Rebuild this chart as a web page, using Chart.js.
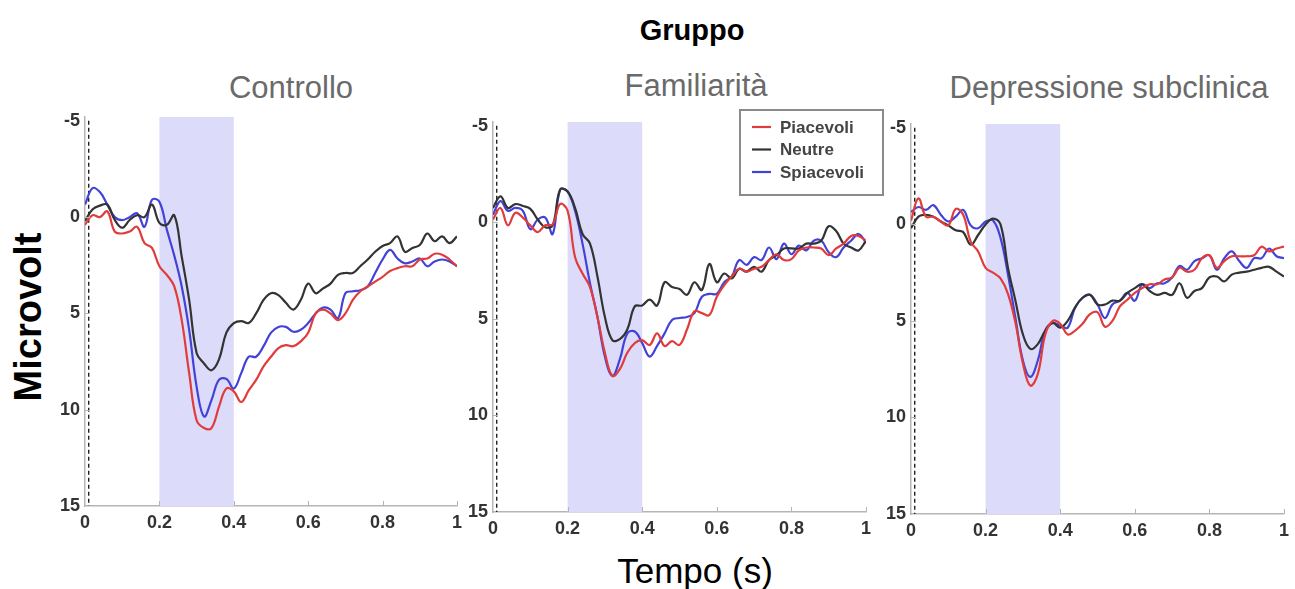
<!DOCTYPE html>
<html lang="it">
<head>
<meta charset="utf-8">
<title>Gruppo</title>
<script src="https://cdn.jsdelivr.net/npm/chart.js@4.4.1/dist/chart.umd.min.js"></script>
<style>
    body { margin: 0; width: 1295px; height: 589px; background: #fff; position: relative; overflow: hidden; font-family: "Liberation Sans", Arial, sans-serif; }
    canvas { position: absolute; }
    .testo { position: absolute; white-space: nowrap; line-height: 1; transform: translate(-50%, -50%); }
    #titolo { left: 692px; top: 30px; font-size: 29px; font-weight: bold; color: #000; }
    .gruppo { font-size: 31px; color: #6a6a6a; }
    #asseX { left: 695px; top: 570px; font-size: 35px; color: #000; }
    #asseY { left: 28px; top: 317px; font-size: 38px; font-weight: bold; color: #000; transform: translate(-50%, -50%) rotate(-90deg); }
</style>
</head>
<body>
<div id="titolo" class="testo">Gruppo</div>
<div id="asseX" class="testo">Tempo (s)</div>
<div id="asseY" class="testo">Microvolt</div>

<script>
const tempo = [0, 0.02, 0.04, 0.06, 0.08, 0.1, 0.12, 0.14, 0.16, 0.18, 0.2, 0.22, 0.24, 0.26, 0.28, 0.3, 0.32, 0.34, 0.36, 0.38, 0.4,
    0.42, 0.44, 0.46, 0.48, 0.5, 0.52, 0.54, 0.56, 0.58, 0.6, 0.62, 0.64, 0.66, 0.68, 0.7, 0.72, 0.74, 0.76, 0.78, 0.8,
    0.82, 0.84, 0.86, 0.88, 0.9, 0.92, 0.94, 0.96, 0.98, 1];
const xTicks = [0, 0.2, 0.4, 0.6, 0.8, 1];
const yTicks = [-5, 0, 5, 10, 15];
const condizioni = ['Piacevoli', 'Neutre', 'Spiacevoli'];
const gruppi = ['Controllo', 'Familiarità', 'Depressione subclinica'];
const finestra = [0.2, 0.4];
const onset = 0.01;

const controlloPiacevoli = [0.4, -0.1, 0.0, -0.3, 0.75, 0.85, 0.75, 0.5, 1.35, 1.6, 2.55, 3.0, 3.6, 5.35, 8.1, 10.55, 10.95, 10.95, 9.85, 8.9, 9.05,
    9.6, 9.0, 8.45, 7.75, 7.25, 6.8, 6.65, 6.7, 6.45, 6.0, 5.0, 4.8, 5.0, 5.35, 5.0, 4.3, 3.85, 3.6, 3.35, 3.1,
    2.8, 2.65, 2.55, 2.55, 2.2, 2.15, 1.9, 1.95, 2.2, 2.55];
const controlloNeutre = [0.2, -0.4, -0.6, -0.65, 0.15, 0.55, 0.15, -0.1, 0.0, -0.65, 0.3, 0.4, -0.1, 2.05, 4.3, 7.05, 7.6, 7.95, 7.4, 6.0, 5.5,
    5.4, 5.5, 5.0, 4.3, 3.95, 4.05, 4.45, 4.8, 4.3, 3.45, 3.95, 3.7, 3.45, 3.0, 2.9, 2.9, 2.55, 2.2, 1.8, 1.5,
    1.35, 1.0, 1.8, 1.6, 1.45, 0.85, 1.25, 1.0, 1.35, 1.0];
const controlloSpiacevoli = [-0.65, -1.5, -1.3, -0.65, 0.0, 0.15, 0.0, -0.2, 0.5, -0.9, -0.8, 0.65, 2.0, 3.6, 5.85, 8.8, 10.35, 9.5, 8.45, 8.4, 8.9,
    8.1, 7.25, 7.25, 6.7, 6.0, 5.7, 5.7, 5.95, 5.85, 5.5, 5.0, 4.7, 4.8, 5.25, 3.95, 3.85, 3.8, 3.6, 2.9, 2.2,
    1.7, 2.15, 2.4, 2.3, 2.15, 2.55, 2.3, 2.2, 2.3, 2.55];

const familiaritaPiacevoli = [-0.15, -0.75, 0.15, -0.5, -0.25, 0.15, 0.5, 0.15, 0.1, -0.95, -0.6, 1.8, 2.65, 3.35, 4.9, 6.75, 7.95, 7.6, 6.75, 6.25, 6.1,
    6.35, 5.75, 6.4, 6.15, 6.35, 5.55, 4.6, 4.7, 4.8, 3.85, 3.25, 2.8, 2.4, 2.55, 2.4, 2.3, 1.95, 1.65, 1.95, 1.9,
    1.45, 1.3, 1.3, 1.35, 1.7, 1.35, 1.1, 0.7, 0.7, 0.95];
const familiaritaNeutre = [-0.75, -1.35, -0.75, -0.95, -0.85, -0.7, -0.15, 0.25, 0.15, -1.7, -1.6, -0.75, 0.6, 1.1, 2.8, 4.9, 6.1, 6.05, 5.55, 4.35, 4.3,
    4.0, 4.3, 3.1, 3.35, 3.45, 3.75, 3.1, 3.5, 2.15, 3.1, 2.65, 2.9, 2.4, 2.55, 2.3, 2.55, 1.95, 1.7, 1.35, 1.35,
    1.35, 1.1, 1.1, 0.95, 0.2, 0.45, 1.1, 1.3, 1.45, 0.95];
const familiaritaSpiacevoli = [-0.4, -1.1, -0.6, -0.75, -0.6, 0.35, -0.15, -0.25, 0.6, -1.7, -1.6, -0.6, 1.1, 3.15, 4.9, 6.95, 7.95, 7.1, 5.75, 5.65, 6.25,
    6.95, 6.4, 5.75, 5.05, 4.95, 4.9, 4.7, 3.85, 3.7, 3.7, 3.1, 2.8, 1.95, 2.2, 1.8, 1.95, 1.3, 1.9, 1.1, 1.65,
    1.2, 1.45, 0.95, 0.95, 1.55, 1.8, 1.3, 0.95, 0.6, 1.05];

const depressionePiacevoli = [-0.2, -1.35, -0.4, -0.4, -0.15, 0.05, -0.8, -0.5, 0.9, 1.4, 2.25, 2.5, 2.8, 3.6, 5.1, 7.2, 8.35, 7.75, 5.7, 5.0, 5.15,
    5.7, 5.5, 5.15, 4.65, 4.55, 5.3, 5.0, 4.25, 3.9, 3.55, 3.3, 3.1, 3.1, 2.85, 2.75, 2.25, 2.45, 2.35, 1.75, 1.6,
    2.25, 1.9, 1.65, 1.65, 1.65, 1.6, 1.15, 1.4, 1.25, 1.15];
const depressioneNeutre = [0.2, -0.4, -0.5, -0.4, -0.15, 0.05, 0.3, 0.4, 1.05, 0.55, 0.0, -0.3, 0.0, 2.25, 3.95, 5.7, 6.45, 6.2, 5.5, 5.1, 5.35,
    5.0, 4.3, 3.8, 3.65, 4.15, 4.15, 3.95, 3.95, 3.55, 3.3, 3.1, 3.45, 3.65, 3.55, 3.65, 3.05, 3.8, 3.45, 3.3, 2.75,
    2.7, 2.95, 2.6, 2.5, 2.45, 2.35, 2.25, 2.2, 2.45, 2.7];
const depressioneSpiacevoli = [-0.65, -0.9, -0.75, -1.0, -0.5, -0.15, -0.4, -0.75, 0.05, 0.2, -0.15, -0.2, 0.7, 2.6, 4.85, 7.05, 7.9, 7.05, 5.5, 5.1, 5.25,
    5.35, 4.3, 3.8, 3.65, 4.15, 4.85, 4.15, 3.95, 3.55, 3.95, 3.1, 3.3, 3.05, 3.05, 2.75, 2.15, 2.35, 1.9, 1.75, 1.6,
    2.35, 1.75, 1.4, 1.9, 2.25, 1.75, 1.75, 1.25, 1.65, 1.75];

const colori = ['#e03c3c', '#333333', '#4242d8'];
const FONT = '"Liberation Sans", Arial, sans-serif';
const FONT_TICK = '"Liberation Sans Narrow", "Arial Narrow", "Liberation Sans", sans-serif';
const ASSE_Y = 30;
const ASSE_X = 30;
const PAD_TOP = 16;

// posizione dell'area di disegno di ogni pannello (px pagina)
const pannelli = [
    { serie: [controlloPiacevoli, controlloNeutre, controlloSpiacevoli], left: 85, top: 117, w: 372, h: 389, padRight: 14, titolo: [291, 87] },
    { serie: [familiaritaPiacevoli, familiaritaNeutre, familiaritaSpiacevoli], left: 493, top: 122, w: 373, h: 390, padRight: 22, titolo: [696, 85], legenda: true },
    { serie: [depressionePiacevoli, depressioneNeutre, depressioneSpiacevoli], left: 911, top: 124, w: 373, h: 390, padRight: 11, titolo: [1109, 87] }
];

const sfondoPlugin = {
    id: 'sfondo',
    beforeDatasetsDraw(chart) {
        const { ctx, chartArea: a, scales: { x, y } } = chart;
        const x0 = x.getPixelForValue(finestra[0]);
        const x1 = x.getPixelForValue(finestra[1]);
        ctx.save();
        ctx.fillStyle = '#dcdcfa';
        ctx.fillRect(x0, a.top, x1 - x0, a.bottom - a.top);
        // linea tratteggiata all'onset dello stimolo
        const xs = x.getPixelForValue(onset);
        ctx.strokeStyle = '#111';
        ctx.lineWidth = 1.3;
        ctx.setLineDash([4, 3]);
        ctx.beginPath();
        ctx.moveTo(xs, y.getPixelForValue(yTicks[0]));
        ctx.lineTo(xs, a.bottom);
        ctx.stroke();
        ctx.restore();
    },
    afterDatasetsDraw(chart) {
        const { ctx, chartArea: a, scales: { x, y } } = chart;
        ctx.save();
        ctx.strokeStyle = '#b5b5b5';
        ctx.lineWidth = 1;
        ctx.beginPath();
        xTicks.slice(1).forEach((v) => {
            const px = Math.round(x.getPixelForValue(v)) + 0.5;
            ctx.moveTo(px, a.bottom);
            ctx.lineTo(px, a.bottom - 5);
        });
        yTicks.slice(1, -1).forEach((v) => {
            const py = Math.round(y.getPixelForValue(v)) + 0.5;
            ctx.moveTo(a.left, py);
            ctx.lineTo(a.left + 5, py);
        });
        ctx.stroke();
        ctx.restore();
    }
};

const legendaPlugin = {
    id: 'legendaBox',
    afterDraw(chart) {
        const { ctx, chartArea: a } = chart;
        const bx = a.right - 126;
        const by = a.top - 12;
        ctx.save();
        ctx.fillStyle = '#fff';
        ctx.fillRect(bx, by, 143, 85);
        ctx.strokeStyle = '#8a8a8a';
        ctx.lineWidth = 2;
        ctx.strokeRect(bx, by, 143, 85);
        ctx.font = 'bold 17px ' + FONT;
        ctx.textBaseline = 'middle';
        chart.data.datasets.forEach((ds, i) => {
            const ry = by + 17 + i * 22.5;
            ctx.strokeStyle = ds.borderColor;
            ctx.lineWidth = 2.2;
            ctx.beginPath();
            ctx.moveTo(bx + 12, ry);
            ctx.lineTo(bx + 31, ry);
            ctx.stroke();
            ctx.fillStyle = '#444';
            ctx.fillText(ds.label, bx + 40, ry + 1);
        });
        ctx.restore();
    }
};

function creaPannello(p, indice) {
    const canvas = document.createElement('canvas');
    canvas.width = ASSE_Y + p.w + p.padRight;
    canvas.height = PAD_TOP + p.h + ASSE_X;
    canvas.style.left = (p.left - ASSE_Y) + 'px';
    canvas.style.top = (p.top - PAD_TOP) + 'px';
    canvas.style.zIndex = indice === 1 ? 2 : 1;
    document.body.appendChild(canvas);

    const titolo = document.createElement('div');
    titolo.className = 'testo gruppo';
    titolo.textContent = gruppi[indice];
    titolo.style.left = p.titolo[0] + 'px';
    titolo.style.top = p.titolo[1] + 'px';
    document.body.appendChild(titolo);

    const tickFont = { family: FONT_TICK, size: 18, weight: 'bold' };

    return new Chart(canvas, {
        type: 'line',
        data: {
            datasets: p.serie.map((valori, i) => ({
                label: condizioni[i],
                data: tempo.map((t, k) => ({ x: t, y: valori[k] })),
                borderColor: colori[i],
                borderWidth: 2.2,
                pointRadius: 0,
                tension: 0.4,
                fill: false
            }))
        },
        options: {
            responsive: false,
            animation: false,
            layout: { padding: { top: PAD_TOP, right: p.padRight, left: 0, bottom: 0 } },
            plugins: { legend: { display: false }, tooltip: { enabled: false } },
            scales: {
                x: {
                    type: 'linear',
                    min: 0,
                    max: 1,
                    afterBuildTicks: (s) => { s.ticks = xTicks.map((v) => ({ value: v })); },
                    afterFit: (s) => { s.height = ASSE_X; },
                    grid: { display: false, drawTicks: false },
                    border: { color: '#b5b5b5', width: 1.5 },
                    ticks: { padding: 6, color: '#333', font: tickFont, maxRotation: 0, callback: (v) => String(Math.round(v * 10) / 10) }
                },
                y: {
                    type: 'linear',
                    reverse: true,
                    min: -5.2,
                    max: 15,
                    afterBuildTicks: (s) => { s.ticks = yTicks.map((v) => ({ value: v })); },
                    afterFit: (s) => { s.width = ASSE_Y; },
                    grid: { display: false, drawTicks: false },
                    border: { color: '#b5b5b5', width: 1.5 },
                    ticks: { padding: 5, color: '#333', font: tickFont, callback: (v) => String(v) }
                }
            }
        },
        plugins: p.legenda ? [sfondoPlugin, legendaPlugin] : [sfondoPlugin]
    });
}

pannelli.forEach(creaPannello);
</script>
</body>
</html>
